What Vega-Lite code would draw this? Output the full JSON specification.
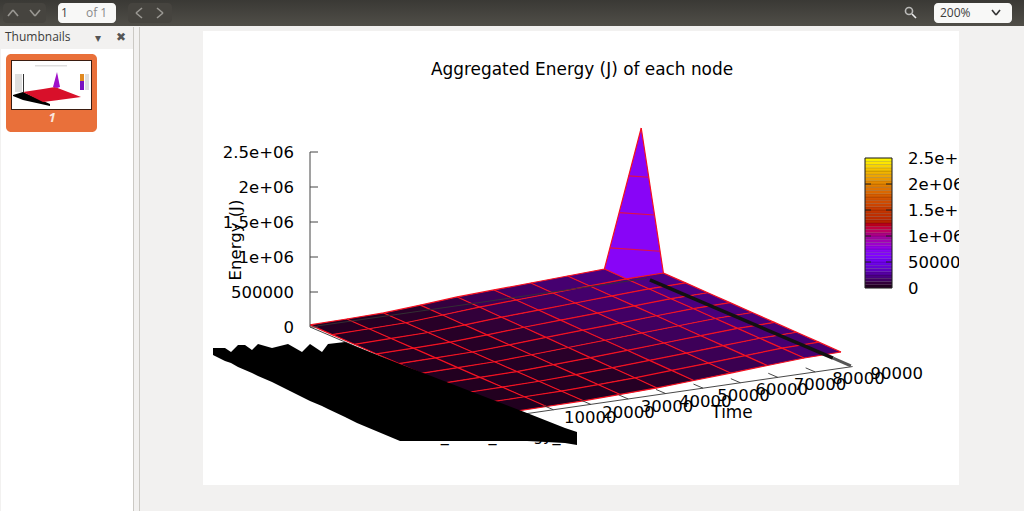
{"$schema":"https://vega.github.io/schema/vega-lite/v6.json","width":1024,"height":511,"padding":0,"autosize":{"type":"fit","contains":"padding"},"background":"#f2f1f0","config":{"view":{"stroke":null}},"resolve":{"scale":{"color":"independent"}},
"datasets":{"grid":[
{"id":0,"t":0,"n":0,"e":30000},{"id":1,"t":0,"n":1,"e":27000},{"id":2,"t":0,"n":2,"e":24000},{"id":3,"t":0,"n":3,"e":22000},{"id":4,"t":0,"n":4,"e":19000},{"id":5,"t":0,"n":5,"e":16000},{"id":6,"t":0,"n":6,"e":13000},{"id":7,"t":0,"n":7,"e":11000},{"id":8,"t":0,"n":8,"e":8000},{"id":9,"t":0,"n":9,"e":5000},
{"id":10,"t":9840,"n":0,"e":38000},{"id":11,"t":9840,"n":1,"e":35000},{"id":12,"t":9840,"n":2,"e":32000},{"id":13,"t":9840,"n":3,"e":29000},{"id":14,"t":9840,"n":4,"e":26000},{"id":15,"t":9840,"n":5,"e":22000},{"id":16,"t":9840,"n":6,"e":19000},{"id":17,"t":9840,"n":7,"e":16000},{"id":18,"t":9840,"n":8,"e":13000},{"id":19,"t":9840,"n":9,"e":10000},
{"id":20,"t":19680,"n":0,"e":49000},{"id":21,"t":19680,"n":1,"e":45000},{"id":22,"t":19680,"n":2,"e":41000},{"id":23,"t":19680,"n":3,"e":38000},{"id":24,"t":19680,"n":4,"e":34000},{"id":25,"t":19680,"n":5,"e":30000},{"id":26,"t":19680,"n":6,"e":26000},{"id":27,"t":19680,"n":7,"e":23000},{"id":28,"t":19680,"n":8,"e":19000},{"id":29,"t":19680,"n":9,"e":15000},
{"id":30,"t":29520,"n":0,"e":85000},{"id":31,"t":29520,"n":1,"e":79000},{"id":32,"t":29520,"n":2,"e":73000},{"id":33,"t":29520,"n":3,"e":67000},{"id":34,"t":29520,"n":4,"e":61000},{"id":35,"t":29520,"n":5,"e":54000},{"id":36,"t":29520,"n":6,"e":48000},{"id":37,"t":29520,"n":7,"e":42000},{"id":38,"t":29520,"n":8,"e":36000},{"id":39,"t":29520,"n":9,"e":30000},
{"id":40,"t":39360,"n":0,"e":126000},{"id":41,"t":39360,"n":1,"e":117000},{"id":42,"t":39360,"n":2,"e":108000},{"id":43,"t":39360,"n":3,"e":100000},{"id":44,"t":39360,"n":4,"e":91000},{"id":45,"t":39360,"n":5,"e":82000},{"id":46,"t":39360,"n":6,"e":73000},{"id":47,"t":39360,"n":7,"e":65000},{"id":48,"t":39360,"n":8,"e":56000},{"id":49,"t":39360,"n":9,"e":47000},
{"id":50,"t":49200,"n":0,"e":150000},{"id":51,"t":49200,"n":1,"e":142000},{"id":52,"t":49200,"n":2,"e":134000},{"id":53,"t":49200,"n":3,"e":126000},{"id":54,"t":49200,"n":4,"e":118000},{"id":55,"t":49200,"n":5,"e":110000},{"id":56,"t":49200,"n":6,"e":102000},{"id":57,"t":49200,"n":7,"e":94000},{"id":58,"t":49200,"n":8,"e":86000},{"id":59,"t":49200,"n":9,"e":78000},
{"id":60,"t":59040,"n":0,"e":173000},{"id":61,"t":59040,"n":1,"e":166000},{"id":62,"t":59040,"n":2,"e":159000},{"id":63,"t":59040,"n":3,"e":151000},{"id":64,"t":59040,"n":4,"e":144000},{"id":65,"t":59040,"n":5,"e":137000},{"id":66,"t":59040,"n":6,"e":130000},{"id":67,"t":59040,"n":7,"e":122000},{"id":68,"t":59040,"n":8,"e":115000},{"id":69,"t":59040,"n":9,"e":108000},
{"id":70,"t":68880,"n":0,"e":197000},{"id":71,"t":68880,"n":1,"e":191000},{"id":72,"t":68880,"n":2,"e":184000},{"id":73,"t":68880,"n":3,"e":178000},{"id":74,"t":68880,"n":4,"e":172000},{"id":75,"t":68880,"n":5,"e":165000},{"id":76,"t":68880,"n":6,"e":159000},{"id":77,"t":68880,"n":7,"e":153000},{"id":78,"t":68880,"n":8,"e":146000},{"id":79,"t":68880,"n":9,"e":140000},
{"id":80,"t":78720,"n":0,"e":221000},{"id":81,"t":78720,"n":1,"e":215000},{"id":82,"t":78720,"n":2,"e":210000},{"id":83,"t":78720,"n":3,"e":204000},{"id":84,"t":78720,"n":4,"e":199000},{"id":85,"t":78720,"n":5,"e":193000},{"id":86,"t":78720,"n":6,"e":188000},{"id":87,"t":78720,"n":7,"e":182000},{"id":88,"t":78720,"n":8,"e":177000},{"id":89,"t":78720,"n":9,"e":171000},
{"id":90,"t":88560,"n":0,"e":2160000},{"id":91,"t":88560,"n":1,"e":224000},{"id":92,"t":88560,"n":2,"e":219000},{"id":93,"t":88560,"n":3,"e":213000},{"id":94,"t":88560,"n":4,"e":208000},{"id":95,"t":88560,"n":5,"e":203000},{"id":96,"t":88560,"n":6,"e":197000},{"id":97,"t":88560,"n":7,"e":192000},{"id":98,"t":88560,"n":8,"e":186000},{"id":99,"t":88560,"n":9,"e":181000}
]},
"layer":[
{"mark":{"type":"rect"},"data":{"values":[{"part":"page","sx":203,"sx2":959,"sy":31,"sy2":485},{"part":"page","sx":1,"sx2":133,"sy":49,"sy2":511},{"part":"edge","sx":133,"sx2":134,"sy":27,"sy2":511},{"part":"edge","sx":139,"sx2":140,"sy":27,"sy2":511}]},
"encoding":{"x":{"field":"sx","type":"quantitative","scale":{"domain":[0,1024]},"axis":null},"x2":{"field":"sx2"},"y":{"field":"sy","type":"quantitative","scale":{"domain":[511,0]},"axis":null},"y2":{"field":"sy2"},"color":{"field":"part","type":"nominal","legend":null,"scale":{"domain":["page","edge"],"range":["#ffffff","#cbc9c4"]}}}},
{"mark":{"type":"rect","color":"#e9703a","cornerRadius":5},"data":{"values":[{"sx":6,"sx2":97,"sy":54,"sy2":132}]},
"encoding":{"x":{"field":"sx","type":"quantitative","scale":{"domain":[0,1024]},"axis":null},"x2":{"field":"sx2"},"y":{"field":"sy","type":"quantitative","scale":{"domain":[511,0]},"axis":null},"y2":{"field":"sy2"}}},
{"mark":{"type":"rect"},"data":{"values":[{"part":"border","sx":11,"sx2":92,"sy":60,"sy2":110},{"part":"white","sx":12,"sx2":91,"sy":61,"sy2":109},{"part":"hint","sx":35,"sx2":67,"sy":65,"sy2":66.5},{"part":"hint","sx":15,"sx2":22,"sy":74,"sy2":92},{"part":"hint","sx":85,"sx2":89,"sy":74,"sy2":90},{"part":"axis","sx":23,"sx2":24,"sy":74,"sy2":93},{"part":"bar1","sx":80,"sx2":84,"sy":74,"sy2":81},{"part":"bar2","sx":80,"sx2":84,"sy":81,"sy2":90}]},
"encoding":{"x":{"field":"sx","type":"quantitative","scale":{"domain":[0,1024]},"axis":null},"x2":{"field":"sx2"},"y":{"field":"sy","type":"quantitative","scale":{"domain":[511,0]},"axis":null},"y2":{"field":"sy2"},"color":{"field":"part","type":"nominal","legend":null,"scale":{"domain":["border","white","hint","axis","bar1","bar2"],"range":["#3a1c10","#ffffff","#dedede","#333333","#e08a20","#7a10c0"]}}}},
{"mark":{"type":"area"},"data":{"values":[{"part":"black","sx":13,"sy":95,"sy2":96},{"part":"black","sx":23,"sy":92,"sy2":100},{"part":"black","sx":50,"sy":104,"sy2":106},{"part":"red","sx":23,"sy":92,"sy2":92},{"part":"red","sx":43,"sy":88.9,"sy2":102},{"part":"red","sx":55,"sy":87,"sy2":100.4},{"part":"red","sx":81,"sy":97,"sy2":97},{"part":"spike","sx":53,"sy":87,"sy2":87},{"part":"spike","sx":57,"sy":72,"sy2":88},{"part":"spike","sx":60,"sy":87,"sy2":87}]},
"encoding":{"x":{"field":"sx","type":"quantitative","scale":{"domain":[0,1024]},"axis":null},"y":{"field":"sy","type":"quantitative","scale":{"domain":[511,0]},"axis":null},"y2":{"field":"sy2"},"color":{"field":"part","type":"nominal","legend":null,"scale":{"domain":["black","red","spike"],"range":["#000000","#d8102a","#a010c8"]}}}},
{"mark":{"type":"area"},"data":{"name":"grid"},"transform":[{"filter":"datum.id%10<9 && datum.id<90"},{"calculate":"datum.id+10","as":"b"},{"calculate":"datum.id+1","as":"c"},{"calculate":"datum.id+11","as":"d"},
{"lookup":"b","from":{"data":{"name":"grid"},"key":"id","fields":["e"]},"as":["eb"]},{"lookup":"c","from":{"data":{"name":"grid"},"key":"id","fields":["e"]},"as":["ec"]},{"lookup":"d","from":{"data":{"name":"grid"},"key":"id","fields":["e"]},"as":["ed"]},
{"calculate":"(datum.e+datum.eb+datum.ec+datum.ed)/4","as":"m"},
{"calculate":"310+datum.t*0.00374+datum.n*22.2","as":"xa"},
{"calculate":"327-datum.t*0.00054+datum.n*9.5-datum.e*0.00007","as":"ya"},
{"calculate":"327-(datum.t+9840)*0.00054+datum.n*9.5-datum.eb*0.00007","as":"yb"},
{"calculate":"327-datum.t*0.00054+(datum.n+1)*9.5-datum.ec*0.00007","as":"yc"},
{"calculate":"327-(datum.t+9840)*0.00054+(datum.n+1)*9.5-datum.ed*0.00007","as":"yd"},
{"calculate":"[0,1,2,3]","as":"p"},{"flatten":["p"]},
{"calculate":"datum.p==0?datum.xa:datum.p==1?datum.xa+22.2:datum.p==2?datum.xa+36.8:datum.xa+59","as":"sx"},
{"calculate":"datum.p==0?datum.ya:datum.p==1?datum.ya+0.603*(datum.yb-datum.ya):datum.p==2?datum.yb:datum.yd","as":"sy"},
{"calculate":"datum.p==0?datum.ya:datum.p==1?datum.yc:datum.p==2?datum.yc+0.397*(datum.yd-datum.yc):datum.yd","as":"sy2"}],
"encoding":{"x":{"field":"sx","type":"quantitative","scale":{"domain":[0,1024]},"axis":null},"y":{"field":"sy","type":"quantitative","scale":{"domain":[511,0]},"axis":null},"y2":{"field":"sy2"},"detail":{"field":"id","type":"nominal"},
"color":{"field":"m","type":"quantitative","legend":null,"scale":{"domain":[0,62500,125000,187500,250000,375000,500000,625000,750000,1000000,1250000,1500000,1750000,2000000,2250000,2500000],"range":["#000000","#280028","#39004f","#460074","#510096","#6301ce","#7202f2","#8004ff","#8c07f2","#a11096","#b42000","#c63700","#d55700","#e48300","#f2ba00","#ffff00"]}}}},
{"mark":{"type":"line","color":"#f5101f","strokeWidth":1.2},"data":{"name":"grid"},"transform":[{"calculate":"310+datum.t*0.00374+datum.n*22.2","as":"sx"},{"calculate":"327-datum.t*0.00054+datum.n*9.5-datum.e*0.00007","as":"sy"}],
"encoding":{"x":{"field":"sx","type":"quantitative","scale":{"domain":[0,1024]},"axis":null},"y":{"field":"sy","type":"quantitative","scale":{"domain":[511,0]},"axis":null},"detail":{"field":"n","type":"nominal"},"order":{"field":"t","type":"quantitative"}}},
{"mark":{"type":"line","color":"#f5101f","strokeWidth":1.2},"data":{"name":"grid"},"transform":[{"calculate":"310+datum.t*0.00374+datum.n*22.2","as":"sx"},{"calculate":"327-datum.t*0.00054+datum.n*9.5-datum.e*0.00007","as":"sy"}],
"encoding":{"x":{"field":"sx","type":"quantitative","scale":{"domain":[0,1024]},"axis":null},"y":{"field":"sy","type":"quantitative","scale":{"domain":[511,0]},"axis":null},"detail":{"field":"t","type":"nominal"},"order":{"field":"n","type":"quantitative"}}},
{"mark":{"type":"line","color":"#e0104a","strokeWidth":1.2},"data":{"values":[{"s":1,"t":80196,"n":0,"e":512000},{"s":1,"t":88560,"n":0.85,"e":514000},{"s":2,"t":82656,"n":0,"e":997000},{"s":2,"t":88560,"n":0.6,"e":998000},{"s":3,"t":85214,"n":0,"e":1501000},{"s":3,"t":88560,"n":0.34,"e":1502000}]},"transform":[{"calculate":"310+datum.t*0.00374+datum.n*22.2","as":"sx"},{"calculate":"327-datum.t*0.00054+datum.n*9.5-datum.e*0.00007","as":"sy"}],
"encoding":{"x":{"field":"sx","type":"quantitative","scale":{"domain":[0,1024]},"axis":null},"y":{"field":"sy","type":"quantitative","scale":{"domain":[511,0]},"axis":null},"detail":{"field":"s","type":"nominal"}}},
{"mark":{"type":"rule","color":"#333333","strokeWidth":0.9},"data":{"values":[{"t":0,"n":9.28,"t2":90000,"n2":9.28},{"t":0,"n":0,"t2":0,"n2":9.28},{"t":2000,"n":0,"t2":90000,"n2":0},{"t":10000,"n":9.28,"t2":10000,"n2":8.85},{"t":20000,"n":9.28,"t2":20000,"n2":8.85},{"t":30000,"n":9.28,"t2":30000,"n2":8.85},{"t":40000,"n":9.28,"t2":40000,"n2":8.85},{"t":50000,"n":9.28,"t2":50000,"n2":8.85},{"t":60000,"n":9.28,"t2":60000,"n2":8.85},{"t":70000,"n":9.28,"t2":70000,"n2":8.85},{"t":80000,"n":9.28,"t2":80000,"n2":8.85}]},"transform":[{"calculate":"310+datum.t*0.00374+datum.n*22.2","as":"sx"},{"calculate":"327-datum.t*0.00054+datum.n*9.5","as":"sy"},{"calculate":"310+datum.t2*0.00374+datum.n2*22.2","as":"sx2"},{"calculate":"327-datum.t2*0.00054+datum.n2*9.5","as":"sy2"}],
"encoding":{"x":{"field":"sx","type":"quantitative","scale":{"domain":[0,1024]},"axis":null},"y":{"field":"sy","type":"quantitative","scale":{"domain":[511,0]},"axis":null},"x2":{"field":"sx2"},"y2":{"field":"sy2"}}},
{"mark":{"type":"rule","color":"#111111","strokeWidth":3.5},"data":{"values":[{"t":90000,"n":0.15,"t2":90000,"n2":8.4}]},"transform":[{"calculate":"310+datum.t*0.00374+datum.n*22.2","as":"sx"},{"calculate":"327-datum.t*0.00054+datum.n*9.5","as":"sy"},{"calculate":"310+datum.t2*0.00374+datum.n2*22.2","as":"sx2"},{"calculate":"327-datum.t2*0.00054+datum.n2*9.5","as":"sy2"}],
"encoding":{"x":{"field":"sx","type":"quantitative","scale":{"domain":[0,1024]},"axis":null},"y":{"field":"sy","type":"quantitative","scale":{"domain":[511,0]},"axis":null},"x2":{"field":"sx2"},"y2":{"field":"sy2"}}},
{"mark":{"type":"rule","color":"#555555","strokeWidth":3},"data":{"values":[{"t":90000,"n":8.4,"t2":90000,"n2":9.2}]},"transform":[{"calculate":"310+datum.t*0.00374+datum.n*22.2","as":"sx"},{"calculate":"327-datum.t*0.00054+datum.n*9.5","as":"sy"},{"calculate":"310+datum.t2*0.00374+datum.n2*22.2","as":"sx2"},{"calculate":"327-datum.t2*0.00054+datum.n2*9.5","as":"sy2"}],
"encoding":{"x":{"field":"sx","type":"quantitative","scale":{"domain":[0,1024]},"axis":null},"y":{"field":"sy","type":"quantitative","scale":{"domain":[511,0]},"axis":null},"x2":{"field":"sx2"},"y2":{"field":"sy2"}}},
{"mark":{"type":"text","font":"DejaVu Sans","fontSize":16,"color":"#000000","align":"left","baseline":"alphabetic"},"data":{"values":[{"label":"Rack_node_Energy_","sx":402,"sy":441}]},
"encoding":{"x":{"field":"sx","type":"quantitative","scale":{"domain":[0,1024]},"axis":null},"y":{"field":"sy","type":"quantitative","scale":{"domain":[511,0]},"axis":null},"text":{"field":"label"}}},
{"mark":{"type":"area","color":"#000000"},"data":{"values":[{"sx":213,"sy":348,"sy2":355},{"sx":225,"sy":348,"sy2":361},{"sx":231,"sy":352,"sy2":363},{"sx":238,"sy":345,"sy2":367},{"sx":245,"sy":345,"sy2":370},{"sx":252,"sy":350,"sy2":373},{"sx":258,"sy":344,"sy2":376},{"sx":272,"sy":348,"sy2":382},{"sx":288,"sy":344,"sy2":390},{"sx":302,"sy":352,"sy2":397},{"sx":310,"sy":344,"sy2":401},{"sx":322,"sy":352,"sy2":406},{"sx":328,"sy":344,"sy2":409},{"sx":345,"sy":342,"sy2":417},{"sx":357,"sy":347,"sy2":423},{"sx":400,"sy":364,"sy2":441},{"sx":527,"sy":413,"sy2":441},{"sx":565,"sy":428,"sy2":443},{"sx":577,"sy":432,"sy2":445}]},
"encoding":{"x":{"field":"sx","type":"quantitative","scale":{"domain":[0,1024]},"axis":null},"y":{"field":"sy","type":"quantitative","scale":{"domain":[511,0]},"axis":null},"y2":{"field":"sy2"}}},
{"mark":{"type":"rule","color":"#444444","strokeWidth":1},"data":{"values":[{"e":0,"e2":2500000,"w":0},{"e":0,"e2":0,"w":8},{"e":500000,"e2":500000,"w":8},{"e":1000000,"e2":1000000,"w":8},{"e":1500000,"e2":1500000,"w":8},{"e":2000000,"e2":2000000,"w":8},{"e":2500000,"e2":2500000,"w":8}]},"transform":[{"calculate":"310","as":"sx"},{"calculate":"310+datum.w","as":"sx2"},{"calculate":"327-datum.e*0.00007","as":"sy"},{"calculate":"327-datum.e2*0.00007","as":"sy2"}],
"encoding":{"x":{"field":"sx","type":"quantitative","scale":{"domain":[0,1024]},"axis":null},"y":{"field":"sy","type":"quantitative","scale":{"domain":[511,0]},"axis":null},"x2":{"field":"sx2"},"y2":{"field":"sy2"}}},
{"mark":{"type":"text","font":"DejaVu Sans","fontSize":16.5,"color":"#000000","align":"right","baseline":"middle"},"data":{"values":[{"e":0,"label":"0"},{"e":500000,"label":"500000"},{"e":1000000,"label":"1e+06"},{"e":1500000,"label":"1.5e+06"},{"e":2000000,"label":"2e+06"},{"e":2500000,"label":"2.5e+06"}]},"transform":[{"calculate":"294","as":"sx"},{"calculate":"328-datum.e*0.00007","as":"sy"}],
"encoding":{"x":{"field":"sx","type":"quantitative","scale":{"domain":[0,1024]},"axis":null},"y":{"field":"sy","type":"quantitative","scale":{"domain":[511,0]},"axis":null},"text":{"field":"label"}}},
{"mark":{"type":"rect","stroke":"#000000","strokeWidth":0.5,"strokeOpacity":0.25},"data":{"values":[{"e":31250},{"e":93750},{"e":156250},{"e":218750},{"e":281250},{"e":343750},{"e":406250},{"e":468750},{"e":531250},{"e":593750},{"e":656250},{"e":718750},{"e":781250},{"e":843750},{"e":906250},{"e":968750},{"e":1031250},{"e":1093750},{"e":1156250},{"e":1218750},{"e":1281250},{"e":1343750},{"e":1406250},{"e":1468750},{"e":1531250},{"e":1593750},{"e":1656250},{"e":1718750},{"e":1781250},{"e":1843750},{"e":1906250},{"e":1968750},{"e":2031250},{"e":2093750},{"e":2156250},{"e":2218750},{"e":2281250},{"e":2343750},{"e":2406250},{"e":2468750}]},"transform":[{"calculate":"865","as":"sx"},{"calculate":"892","as":"sx2"},{"calculate":"288-(datum.e-31250)*0.000052","as":"sy"},{"calculate":"288-(datum.e+31250)*0.000052","as":"sy2"}],
"encoding":{"x":{"field":"sx","type":"quantitative","scale":{"domain":[0,1024]},"axis":null},"x2":{"field":"sx2"},"y":{"field":"sy","type":"quantitative","scale":{"domain":[511,0]},"axis":null},"y2":{"field":"sy2"},
"color":{"field":"e","type":"quantitative","legend":null,"scale":{"domain":[0,62500,125000,187500,250000,375000,500000,625000,750000,1000000,1250000,1500000,1750000,2000000,2250000,2500000],"range":["#000000","#280028","#39004f","#460074","#510096","#6301ce","#7202f2","#8004ff","#8c07f2","#a11096","#b42000","#c63700","#d55700","#e48300","#f2ba00","#ffff00"]}}}},
{"mark":{"type":"rule","color":"#222222","strokeWidth":1},"data":{"values":[{"e":500000},{"e":1000000},{"e":1500000},{"e":2000000}]},"transform":[{"calculate":"[865,886]","as":"sx"},{"flatten":["sx"]},{"calculate":"datum.sx+6","as":"sx2"},{"calculate":"288-datum.e*0.000052","as":"sy"}],
"encoding":{"x":{"field":"sx","type":"quantitative","scale":{"domain":[0,1024]},"axis":null},"x2":{"field":"sx2"},"y":{"field":"sy","type":"quantitative","scale":{"domain":[511,0]},"axis":null}}},
{"mark":{"type":"rect","filled":false,"stroke":"#222222","strokeWidth":1},"data":{"values":[{"e":0,"e2":2500000}]},"transform":[{"calculate":"865","as":"sx"},{"calculate":"892","as":"sx2"},{"calculate":"288-datum.e*0.000052","as":"sy"},{"calculate":"288-datum.e2*0.000052","as":"sy2"}],
"encoding":{"x":{"field":"sx","type":"quantitative","scale":{"domain":[0,1024]},"axis":null},"x2":{"field":"sx2"},"y":{"field":"sy","type":"quantitative","scale":{"domain":[511,0]},"axis":null},"y2":{"field":"sy2"}}},
{"mark":{"type":"text","font":"DejaVu Sans","fontSize":16.5,"color":"#000000","align":"left","baseline":"middle"},"data":{"values":[{"e":0,"label":"0"},{"e":500000,"label":"500000"},{"e":1000000,"label":"1e+06"},{"e":1500000,"label":"1.5e+06"},{"e":2000000,"label":"2e+06"},{"e":2500000,"label":"2.5e+06"}]},"transform":[{"calculate":"908","as":"sx"},{"calculate":"289-datum.e*0.000052","as":"sy"}],
"encoding":{"x":{"field":"sx","type":"quantitative","scale":{"domain":[0,1024]},"axis":null},"y":{"field":"sy","type":"quantitative","scale":{"domain":[511,0]},"axis":null},"text":{"field":"label"}}},
{"mark":{"type":"text","font":"DejaVu Sans","fontSize":16.5,"color":"#000000","align":"center","baseline":"middle"},"data":{"values":[{"t":10000,"label":"10000"},{"t":20000,"label":"20000"},{"t":30000,"label":"30000"},{"t":40000,"label":"40000"},{"t":50000,"label":"50000"},{"t":60000,"label":"60000"},{"t":70000,"label":"70000"},{"t":80000,"label":"80000"},{"t":90000,"label":"90000"}]},"transform":[{"calculate":"552+datum.t*0.00383","as":"sx"},{"calculate":"424-datum.t*0.00056","as":"sy"}],
"encoding":{"x":{"field":"sx","type":"quantitative","scale":{"domain":[0,1024]},"axis":null},"y":{"field":"sy","type":"quantitative","scale":{"domain":[511,0]},"axis":null},"text":{"field":"label"}}},
{"mark":{"type":"text","font":"DejaVu Sans","fontSize":16.9,"color":"#000000","align":"center","baseline":"middle"},"data":{"values":[{"label":"Aggregated Energy (J) of each node","sx":582,"sy":70},{"label":"Time","sx":732,"sy":413}]},
"encoding":{"x":{"field":"sx","type":"quantitative","scale":{"domain":[0,1024]},"axis":null},"y":{"field":"sy","type":"quantitative","scale":{"domain":[511,0]},"axis":null},"text":{"field":"label"}}},
{"mark":{"type":"text","font":"DejaVu Sans","fontSize":16.5,"color":"#000000","align":"center","baseline":"middle","angle":270},"data":{"values":[{"label":"Energy (J)","sx":236,"sy":240}]},
"encoding":{"x":{"field":"sx","type":"quantitative","scale":{"domain":[0,1024]},"axis":null},"y":{"field":"sy","type":"quantitative","scale":{"domain":[511,0]},"axis":null},"text":{"field":"label"}}},
{"mark":{"type":"rect","color":"#f2f1f0"},"data":{"values":[{"sx":959,"sx2":1024,"sy":27,"sy2":511}]},
"encoding":{"x":{"field":"sx","type":"quantitative","scale":{"domain":[0,1024]},"axis":null},"x2":{"field":"sx2"},"y":{"field":"sy","type":"quantitative","scale":{"domain":[511,0]},"axis":null},"y2":{"field":"sy2"}}},
{"mark":{"type":"rect","color":{"gradient":"linear","x1":0,"y1":0,"x2":0,"y2":1,"stops":[{"offset":0,"color":"#3a3935"},{"offset":1,"color":"#504e48"}]}},"data":{"values":[{"sx":0,"sx2":1024,"sy":0,"sy2":26}]},
"encoding":{"x":{"field":"sx","type":"quantitative","scale":{"domain":[0,1024]},"axis":null},"x2":{"field":"sx2"},"y":{"field":"sy","type":"quantitative","scale":{"domain":[511,0]},"axis":null},"y2":{"field":"sy2"}}},
{"mark":{"type":"rect","cornerRadius":4},"data":{"values":[{"part":"dark","sx":3,"sx2":46,"sy":3,"sy2":23},{"part":"dark","sx":128,"sx2":172,"sy":3,"sy2":23},{"part":"light","sx":58,"sx2":116,"sy":3,"sy2":23},{"part":"light","sx":934,"sx2":1012,"sy":3,"sy2":23}]},
"encoding":{"x":{"field":"sx","type":"quantitative","scale":{"domain":[0,1024]},"axis":null},"x2":{"field":"sx2"},"y":{"field":"sy","type":"quantitative","scale":{"domain":[511,0]},"axis":null},"y2":{"field":"sy2"},"color":{"field":"part","type":"nominal","legend":null,"scale":{"domain":["dark","light"],"range":["#46443f","#f8f8f7"]}}}},
{"mark":{"type":"rule","strokeWidth":1.6},"data":{"values":[{"part":"dim","sx":8,"sy":16,"sx2":13,"sy2":10},{"part":"dim","sx":13,"sy":10,"sx2":18,"sy2":16},{"part":"dim","sx":30,"sy":10,"sx2":35,"sy2":16},{"part":"dim","sx":35,"sy":16,"sx2":40,"sy2":10},{"part":"dim","sx":142,"sy":8,"sx2":136,"sy2":13},{"part":"dim","sx":136,"sy":13,"sx2":142,"sy2":18},{"part":"dim","sx":157,"sy":8,"sx2":163,"sy2":13},{"part":"dim","sx":163,"sy":13,"sx2":157,"sy2":18},{"part":"ink","sx":992,"sy":10,"sx2":996,"sy2":15},{"part":"ink","sx":996,"sy":15,"sx2":1000,"sy2":10},{"part":"lit","sx":912,"sy":14,"sx2":916,"sy2":18}]},
"encoding":{"x":{"field":"sx","type":"quantitative","scale":{"domain":[0,1024]},"axis":null},"y":{"field":"sy","type":"quantitative","scale":{"domain":[511,0]},"axis":null},"x2":{"field":"sx2"},"y2":{"field":"sy2"},"color":{"field":"part","type":"nominal","legend":null,"scale":{"domain":["dim","ink","lit"],"range":["#9a9893","#333333","#eeeeee"]}}}},
{"mark":{"type":"point","filled":false,"stroke":"#eeeeee","strokeWidth":1.6,"size":50},"data":{"values":[{"sx":909,"sy":11}]},
"encoding":{"x":{"field":"sx","type":"quantitative","scale":{"domain":[0,1024]},"axis":null},"y":{"field":"sy","type":"quantitative","scale":{"domain":[511,0]},"axis":null}}},
{"mark":{"type":"text","font":"Open Sans","fontSize":12,"align":"left","baseline":"middle"},"data":{"values":[{"part":"body","label":"Thumbnails","sx":5,"sy":37},{"part":"body","label":"1","sx":61,"sy":13},{"part":"faint","label":"of 1","sx":86,"sy":13},{"part":"body","label":"200%","sx":940,"sy":13},{"part":"faint2","label":"▾","sx":95,"sy":38},{"part":"faint2","label":"✖","sx":116,"sy":37}]},
"encoding":{"x":{"field":"sx","type":"quantitative","scale":{"domain":[0,1024]},"axis":null},"y":{"field":"sy","type":"quantitative","scale":{"domain":[511,0]},"axis":null},"text":{"field":"label"},"color":{"field":"part","type":"nominal","legend":null,"scale":{"domain":["body","faint","faint2"],"range":["#3c3c3c","#8a8a8a","#555555"]}}}},
{"mark":{"type":"text","font":"Open Sans","fontSize":13,"fontStyle":"italic","fontWeight":"bold","color":"#fbe6dc","align":"center","baseline":"middle"},"data":{"values":[{"label":"1","sx":52,"sy":118}]},
"encoding":{"x":{"field":"sx","type":"quantitative","scale":{"domain":[0,1024]},"axis":null},"y":{"field":"sy","type":"quantitative","scale":{"domain":[511,0]},"axis":null},"text":{"field":"label"}}}
]}
